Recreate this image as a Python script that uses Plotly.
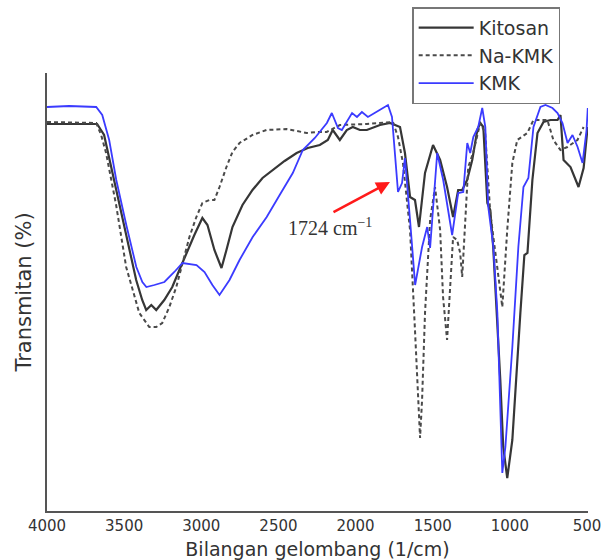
import plotly.graph_objects as go

# --- Data ---
kmk_wn = [4000, 3857, 3681, 3642, 3597, 3551, 3486, 3421, 3382, 3356, 3304, 3239, 3175, 3122,
          3031, 2979, 2928, 2882, 2817, 2752, 2667, 2576, 2492, 2407, 2342, 2264, 2186, 2154,
          2114, 2089, 2023, 1991, 1959, 1920, 1855, 1790, 1764, 1745, 1725, 1699, 1680, 1647,
          1614, 1569, 1536, 1517, 1497, 1471, 1432, 1400, 1374, 1335, 1302, 1276, 1257, 1237,
          1205, 1179, 1159, 1140, 1107, 1081, 1062, 1049, 1029, 984, 945, 912, 880, 847, 802,
          769, 724, 691, 659, 626, 594, 561, 529, 503, 495]
kmk_t = [80.2, 80.4, 80.2, 78.6, 73.6, 65.6, 56.6, 48.2, 45.2, 44.2, 44.6, 45.2, 47.2, 49.0,
         48.6, 47.2, 44.6, 42.6, 45.6, 49.6, 54.2, 58.2, 62.6, 67.0, 71.6, 74.0, 77.0, 79.0,
         76.0, 75.6, 79.0, 78.2, 79.2, 78.2, 79.4, 80.6, 78.2, 71.6, 63.2, 65.0, 70.0, 57.6,
         44.6, 52.2, 56.2, 52.0, 60.2, 71.0, 65.6, 59.6, 54.6, 63.0, 63.2, 73.0, 71.0, 74.2,
         76.2, 80.0, 76.2, 60.2, 52.2, 39.0, 22.2, 7.0, 12.2, 32.2, 52.2, 64.2, 66.0, 76.2, 80.2,
         80.6, 80.0, 79.0, 77.0, 73.0, 74.6, 72.2, 69.0, 75.6, 80.0]

kitosan_wn = [4000, 3675, 3630, 3552, 3487, 3422, 3383, 3357, 3324, 3292, 3240, 3188, 3142, 3097,
              3045, 2993, 2960, 2915, 2869, 2837, 2798, 2733, 2668, 2603, 2538, 2460, 2382, 2310,
              2232, 2180, 2148, 2102, 2057, 2018, 1972, 1927, 1842, 1777, 1712, 1680, 1647, 1615,
              1589, 1550, 1498, 1452, 1407, 1368, 1335, 1309, 1277, 1244, 1211, 1192, 1172, 1146,
              1127, 1108, 1062, 1043, 1017, 984, 932, 906, 886, 854, 821, 782, 737, 691, 672, 652,
              607, 575, 555, 522, 496]
kitosan_t = [76.8, 76.8, 74.6, 63.6, 54.6, 45.6, 41.6, 39.6, 40.6, 39.6, 41.6, 44.2, 47.6, 51.0,
             54.6, 58.0, 56.6, 51.6, 48.0, 51.6, 56.2, 60.6, 63.6, 66.0, 67.6, 69.4, 71.0, 72.0,
             72.6, 73.6, 75.6, 73.6, 75.6, 76.2, 75.6, 75.6, 76.6, 77.0, 76.2, 71.0, 62.2, 61.6,
             56.2, 67.0, 72.6, 69.6, 64.2, 58.2, 63.6, 63.6, 65.6, 69.6, 75.6, 77.0, 76.2, 61.0,
             59.6, 52.2, 25.6, 12.2, 6.0, 13.6, 39.0, 50.6, 51.0, 65.6, 75.0, 77.2, 77.6, 77.6,
             78.6, 69.6, 68.2, 65.6, 64.2, 68.0, 76.2]

nakmk_wn = [4000, 3681, 3649, 3617, 3552, 3487, 3435, 3402, 3337, 3292, 3253, 3207, 3162, 3122,
            3077, 3032, 2993, 2947, 2915, 2882, 2837, 2798, 2752, 2668, 2577, 2447, 2317, 2252,
            2187, 2102, 1927, 1758, 1725, 1693, 1647, 1615, 1595, 1582, 1569, 1550, 1517, 1485,
            1452, 1433, 1407, 1387, 1368, 1342, 1322, 1309, 1290, 1270, 1238, 1192, 1160, 1127,
            1082, 1049, 1017, 984, 952, 887, 847, 757, 718, 672, 627, 562, 522]
nakmk_t = [77.2, 77.0, 74.6, 71.0, 60.6, 48.2, 42.6, 39.0, 36.2, 36.2, 37.0, 40.2, 44.2, 49.2,
           54.2, 58.2, 61.0, 61.6, 61.6, 64.2, 68.2, 71.2, 73.0, 74.6, 75.6, 75.8, 75.0, 75.2,
           75.2, 76.6, 76.8, 77.2, 74.2, 69.0, 55.6, 35.6, 21.6, 14.0, 21.6, 39.0, 57.6, 64.2,
           55.6, 42.2, 33.6, 44.2, 54.2, 53.6, 51.0, 46.2, 57.6, 68.2, 71.0, 77.0, 75.0, 59.0,
           48.2, 40.2, 55.6, 69.0, 73.6, 75.0, 77.6, 77.6, 73.6, 71.6, 72.2, 73.6, 76.2]

x_ticks = [4000, 3500, 3000, 2500, 2000, 1500, 1000, 500]
series_names = ["Kitosan", "Na-KMK", "KMK"]

# annotation anchor values
peak_wn = 1777
peak_t = 65.2
label_wn = 2167
label_t = 56.2

fig = go.Figure()
fig.add_trace(go.Scatter(x=kitosan_wn, y=kitosan_t, mode="lines", name=series_names[0],
                         line=dict(color="#363636", width=2.2)))
fig.add_trace(go.Scatter(x=nakmk_wn, y=nakmk_t, mode="lines", name=series_names[1],
                         line=dict(color="#4a4a4a", width=2, dash="4px,3px")))
fig.add_trace(go.Scatter(x=kmk_wn, y=kmk_t, mode="lines", name=series_names[2],
                         line=dict(color="#3b3bff", width=1.8)))

fig.add_annotation(x=peak_wn, y=peak_t, xref="x", yref="y", text="", showarrow=True,
                   ax=-58, ay=31, arrowhead=2, arrowsize=1.1, arrowwidth=2.5, arrowcolor="#ff1a1a")
fig.add_annotation(x=label_wn, y=label_t, xref="x", yref="y", text="1724 cm<sup>−1</sup>",
                   showarrow=False, font=dict(family="Liberation Serif", size=20, color="#333333"))

fig.update_layout(
    width=610, height=560,
    margin=dict(l=47, r=22, t=73, b=49, autoexpand=False),
    plot_bgcolor="white", paper_bgcolor="white",
    font=dict(family="DejaVu Sans", color="#333333"),
    showlegend=True,
    legend=dict(x=0.675, y=1.15, xanchor="left", yanchor="top",
                bordercolor="#777777", borderwidth=1.5, bgcolor="white",
                font=dict(family="DejaVu Sans", size=19, color="#333333"),
                itemwidth=55, entrywidth=80, entrywidthmode="pixels", tracegroupgap=0),
)
fig.update_xaxes(range=[4000, 493.6], tickvals=x_ticks, ticktext=[str(v) for v in x_ticks],
                 showline=True, linecolor="#555555", linewidth=2, ticks="",
                 showgrid=False, zeroline=False, ticklabelstandoff=0, automargin=False,
                 tickfont=dict(family="DejaVu Sans", size=15, color="#333333"),
                 title=dict(text="Bilangan gelombang (1/cm)",
                            font=dict(family="DejaVu Sans", size=19, color="#333333"), standoff=12))
fig.update_yaxes(range=[-0.6, 87], showline=True, linecolor="#555555", linewidth=2, ticks="",
                 showticklabels=False, showgrid=False, zeroline=False, automargin=False,
                 title=dict(text="Transmitan (%)",
                            font=dict(family="DejaVu Sans", size=21, color="#333333"), standoff=8))

fig.write_html("out.html")
